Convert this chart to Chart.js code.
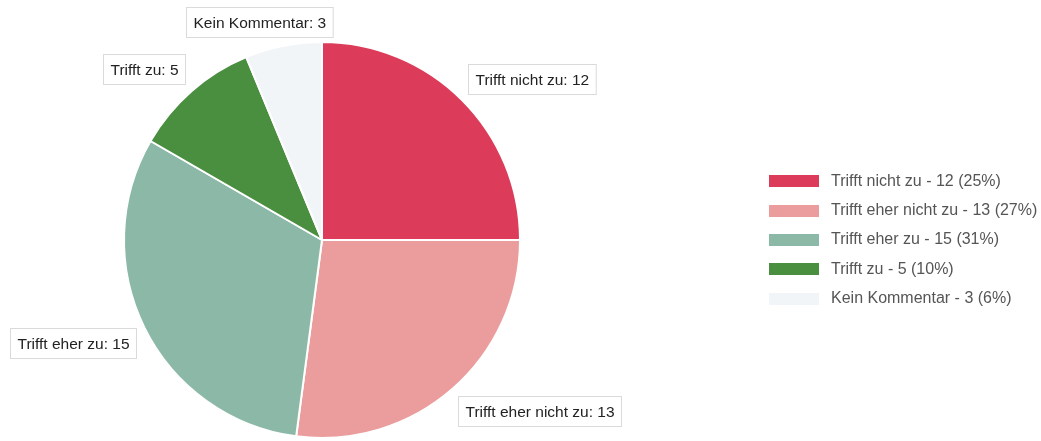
<!DOCTYPE html>
<html>
<head>
<meta charset="utf-8">
<script src="https://cdn.jsdelivr.net/npm/chart.js@4.4.1/dist/chart.umd.min.js"></script>
<style>
  html, body { margin: 0; padding: 0; background: #fff; }
  #wrap { width: 1041px; height: 441px; position: relative; }
</style>
</head>
<body>
<div id="wrap"><canvas id="pie"></canvas></div>
<script>
// Antworten und Anzahl
const categories = ["Trifft nicht zu", "Trifft eher nicht zu", "Trifft eher zu", "Trifft zu", "Kein Kommentar"];
const counts = [12, 13, 15, 5, 3];
const sliceColors = ["#dc3c5a", "#eb9d9d", "#8cb9a7", "#4a8f40", "#f2f5f8"];

const LEGEND_FONT = "16px 'Liberation Sans', Arial, sans-serif";
const LABEL_FONT = "15.5px 'Liberation Sans', Arial, sans-serif";
const total = counts.reduce((a, b) => a + b, 0);

// callout boxes outside the pie
const calloutPlugin = {
  id: "callouts",
  afterDatasetsDraw(chart) {
    const ctx = chart.ctx;
    const meta = chart.getDatasetMeta(0);
    ctx.save();
    ctx.font = LABEL_FONT;
    meta.data.forEach((arc, i) => {
      const { x, y, startAngle, endAngle, outerRadius } = arc.getProps(["x", "y", "startAngle", "endAngle", "outerRadius"], true);
      const mid = (startAngle + endAngle) / 2;
      const r = outerRadius + 9;
      const px = x + Math.cos(mid) * r;
      const py = y + Math.sin(mid) * r;
      const text = categories[i] + ": " + counts[i];
      const w = ctx.measureText(text).width + 14;
      const h = 30;
      const s = Math.cos(mid);   // horizontal direction
      const c = -Math.sin(mid);  // up direction
      const clamp = (v) => Math.max(-1, Math.min(1, v));
      const f = 0.5 - 0.5 * clamp(s / 0.65);
      const g = 0.5 + 0.5 * clamp(c / 0.6);
      const left = Math.round(px - w * f) + 0.5;
      const top = Math.round(py - h * g) + 0.5;
      ctx.fillStyle = "#ffffff";
      ctx.strokeStyle = "#dadada";
      ctx.lineWidth = 1;
      ctx.fillRect(left, top, w, h);
      ctx.strokeRect(left, top, w, h);
      ctx.fillStyle = "#222222";
      ctx.textAlign = "center";
      ctx.textBaseline = "middle";
      ctx.fillText(text, left + w / 2, top + h / 2 + 1);
    });
    ctx.restore();
  }
};

// legend on the right
const sideLegendPlugin = {
  id: "sideLegend",
  afterDraw(chart) {
    const ctx = chart.ctx;
    const area = chart.chartArea;
    const rowH = 29.3;
    const cy = (area.top + area.bottom) / 2;
    const x0 = 769;
    const firstY = cy - rowH * (categories.length - 1) / 2;
    ctx.save();
    ctx.font = LEGEND_FONT;
    ctx.textBaseline = "middle";
    ctx.textAlign = "left";
    categories.forEach((cat, i) => {
      const yy = firstY + i * rowH;
      ctx.fillStyle = sliceColors[i];
      ctx.fillRect(x0, Math.round(yy - 6), 50, 12);
      const pct = Math.round(counts[i] / total * 100);
      ctx.fillStyle = "#555555";
      ctx.fillText(cat + " - " + counts[i] + " (" + pct + "%)", x0 + 62, yy);
    });
    ctx.restore();
  }
};

new Chart(document.getElementById("pie"), {
  type: "pie",
  data: {
    labels: categories,
    datasets: [{
      data: counts,
      backgroundColor: sliceColors,
      borderColor: "#ffffff",
      borderWidth: 2,
    }],
  },
  options: {
    responsive: true,
    maintainAspectRatio: false,
    animation: false,
    layout: { padding: { left: 123, right: 520, top: 41, bottom: 2 } },
    plugins: {
      legend: { display: false },
      tooltip: { enabled: false },
    },
  },
  plugins: [calloutPlugin, sideLegendPlugin],
});
</script>
</body>
</html>
